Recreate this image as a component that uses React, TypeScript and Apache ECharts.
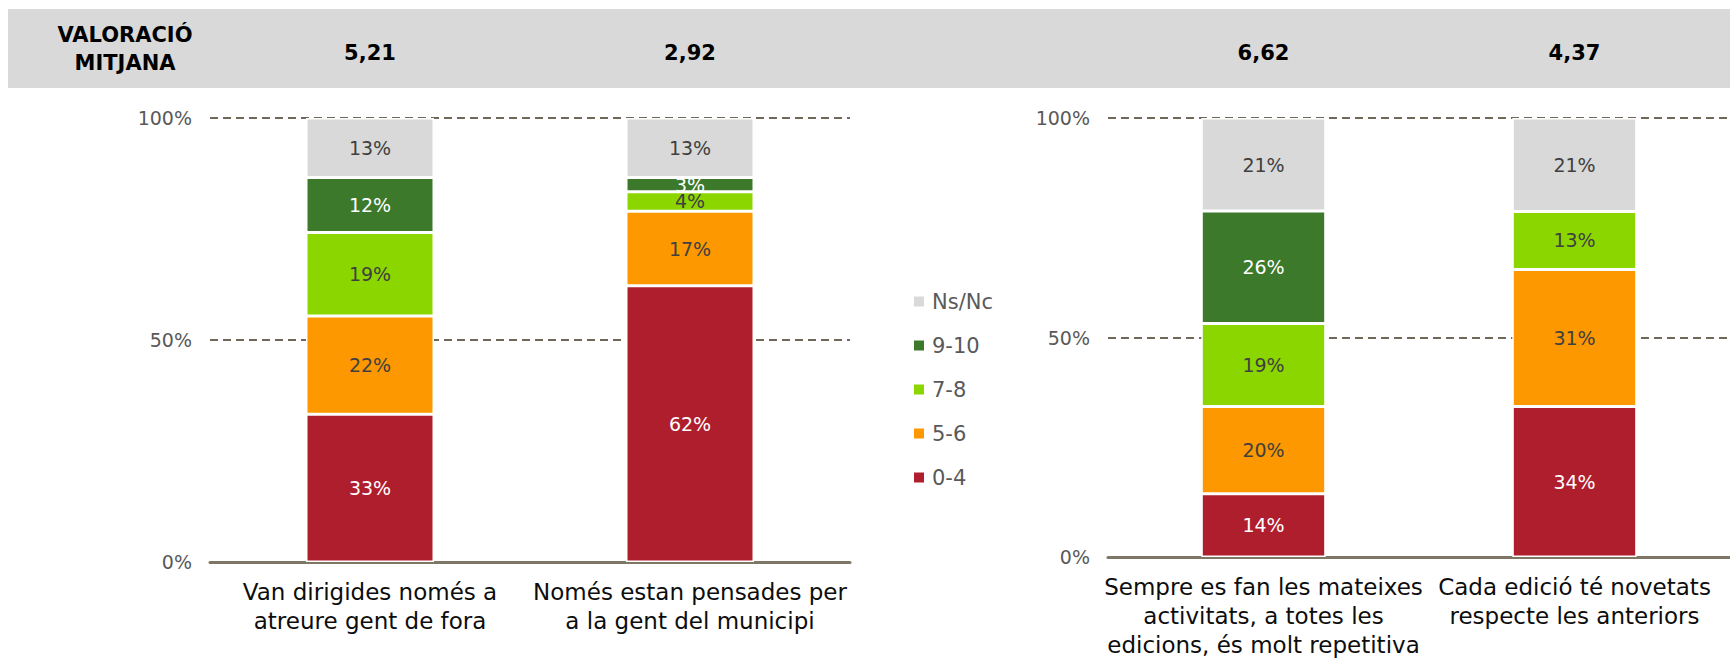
import React, { useEffect, useRef } from "react";
import * as echarts from "echarts";

// ---- data ----
const categoriesLeft = [
  "Van dirigides només a\natreure gent de fora",
  "Només estan pensades per\na la gent del municipi",
];
const categoriesRight = [
  "Sempre es fan les mateixes\nactivitats, a totes les\nedicions, és molt repetitiva",
  "Cada edició té novetats\nrespecte les anteriors",
];
const meanLeft = [5.21, 2.92];
const meanRight = [6.62, 4.37];

const seriesNames = ["0-4", "5-6", "7-8", "9-10", "Ns/Nc"];
const seriesColors = ["#AF1E2D", "#FD9800", "#8CD600", "#3C792B", "#D9D9D9"];
const labelColors = ["#FFFFFF", "#404040", "#404040", "#FFFFFF", "#404040"];

const left04 = [33.3, 62.2];
const left56 = [22.1, 16.8];
const left78 = [18.8, 4.4];
const left910 = [12.4, 3.2];
const leftNs = [13.4, 13.4];

const right04 = [14.4, 34.3];
const right56 = [19.9, 31.2];
const right78 = [18.9, 13.2];
const right910 = [25.6, 0];
const rightNs = [21.2, 21.3];

const legendOrder = ["Ns/Nc", "9-10", "7-8", "5-6", "0-4"];
const yTicks = [0, 50, 100];

const FONT = "'DejaVu Sans', 'Noto Sans', sans-serif";

export default function App() {
  const ref = useRef<HTMLDivElement>(null);
  useEffect(() => {
    if (!ref.current) return;
    const chart = echarts.init(ref.current, undefined, { renderer: "svg" });
    const leftData = [left04, left56, left78, left910, leftNs];
    const rightData = [right04, right56, right78, right910, rightNs];
    const fmtMean = (v: number) => v.toFixed(2).replace(".", ",");

    const mkSeries = (data: number[][], xIdx: number, yIdx: number, stack: string) =>
      data.map((vals, i) => ({
        name: seriesNames[i],
        type: "bar",
        stack,
        xAxisIndex: xIdx,
        yAxisIndex: yIdx,
        barWidth: "40%",
        data: vals,
        itemStyle: { color: seriesColors[i], borderColor: "#FFFFFF", borderWidth: 1.5 },
        label: {
          show: true,
          position: "inside",
          color: labelColors[i],
          fontFamily: FONT,
          fontSize: 19,
          formatter: (p: any) => (p.value > 0 ? Math.round(p.value) + "%" : ""),
        },
      }));

    const bottomAxis = (gridIndex: number, data: string[]) => ({
      type: "category",
      gridIndex,
      position: "bottom",
      data,
      axisLine: { show: true, lineStyle: { color: "#7F7766", width: 3 } },
      axisTick: { show: false },
      axisLabel: {
        interval: 0,
        margin: 15,
        color: "#0D0D0D",
        fontFamily: FONT,
        fontSize: 23,
        lineHeight: 29,
      },
    });
    const topAxis = (gridIndex: number, data: number[]) => ({
      type: "category",
      gridIndex,
      position: "top",
      data: data.map(fmtMean),
      axisLine: { show: false },
      axisTick: { show: false },
      axisLabel: {
        interval: 0,
        margin: 65,
        verticalAlign: "middle",
        color: "#000000",
        fontFamily: FONT,
        fontWeight: "bold",
        fontSize: 21,
      },
    });
    const yAxis = (gridIndex: number) => ({
      type: "value",
      gridIndex,
      min: yTicks[0],
      max: yTicks[yTicks.length - 1],
      interval: yTicks[1] - yTicks[0],
      axisLine: { show: false },
      axisTick: { show: false },
      axisLabel: {
        formatter: "{value}%",
        margin: 18,
        color: "#595959",
        fontFamily: FONT,
        fontSize: 19,
      },
      splitLine: {
        show: true,
        lineStyle: { color: "#6F6757", width: 2, type: [8, 5] },
      },
    });

    chart.setOption({
      animation: false,
      backgroundColor: "#FFFFFF",
      grid: [
        { left: 210, width: 640, top: 118, height: 444 },
        { left: 1108, width: 632, top: 118, height: 444 },
      ],
      xAxis: [
        bottomAxis(0, categoriesLeft),
        topAxis(0, meanLeft),
        bottomAxis(1, categoriesRight),
        topAxis(1, meanRight),
      ],
      yAxis: [yAxis(0), yAxis(1)],
      legend: {
        orient: "vertical",
        left: 907,
        top: 286,
        data: legendOrder,
        icon: "rect",
        itemWidth: 12,
        itemHeight: 12,
        itemGap: 23,
        selectedMode: false,
        textStyle: { color: "#595959", fontFamily: FONT, fontSize: 21, padding: [0, 0, 0, 2] },
      },
      graphic: [
        {
          type: "rect",
          z: -10,
          silent: true,
          shape: { x: 8, y: 9, width: 1722, height: 79 },
          style: { fill: "#D9D9D9" },
        },
        {
          type: "text",
          z: 10,
          x: 125,
          y: 49,
          style: {
            text: "VALORACIÓ\nMITJANA",
            fill: "#000000",
            font: `bold 21px ${FONT}`,
            lineHeight: 28,
            align: "center",
            verticalAlign: "middle",
          },
        },
      ],
      series: [...mkSeries(leftData, 0, 0, "left"), ...mkSeries(rightData, 2, 1, "right")],
    });
    return () => chart.dispose();
  }, []);
  return (
    <div
      ref={ref}
      style={{ position: "absolute", left: 0, top: 0, width: 1730, height: 659, background: "#fff" }}
    />
  );
}
